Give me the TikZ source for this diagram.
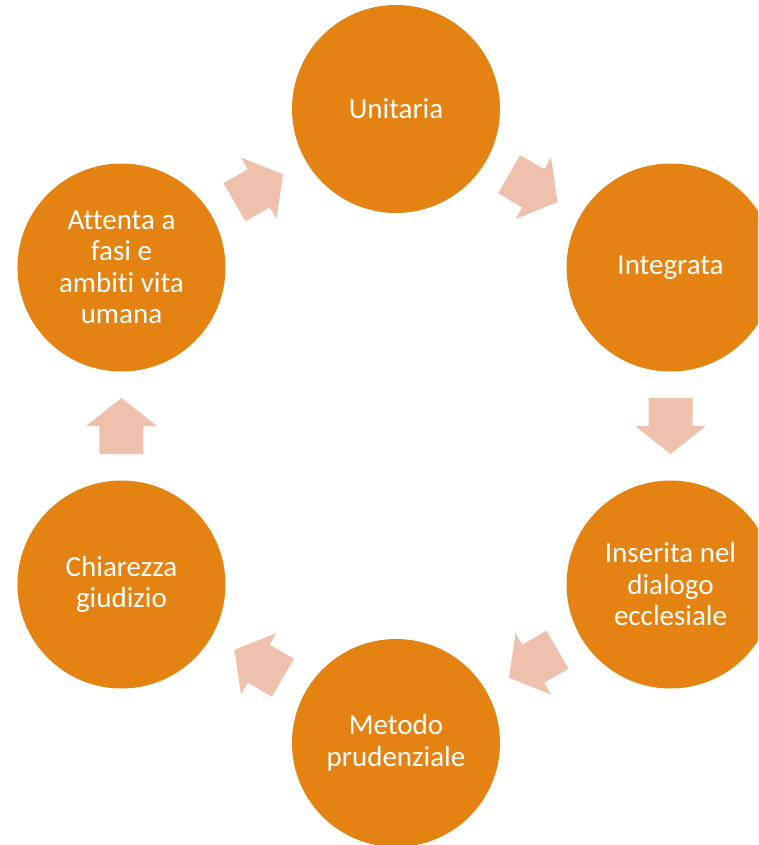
\documentclass[tikz,border=0pt]{standalone}
\usepackage{fontspec}
\setmainfont[Ligatures=NoCommon]{Carlito}
\usetikzlibrary{calc}
\definecolor{circ}{RGB}{228,131,18}
\definecolor{arr}{RGB}{239,193,172}
\begin{document}
\begin{tikzpicture}[x=1pt,y=1pt,
  stage/.style={circle, fill=circ, minimum size=208pt, inner sep=0pt, text=white, align=center, font=\fontsize{29}{31.5}\selectfont},
  blockarrow/.style={fill=arr}]
\useasboundingbox (0,0) rectangle (758,-845);
\clip (0,0) rectangle (758,-845);
\coordinate (o) at (396,-426);
\node[stage] (u) at ($(o)+(90:317)$) {Unitaria};
\node[stage] (i) at ($(o)+(30:317)$) {Integrata};
\node[stage] (s) at ($(o)+(-30:317)$) {Inserita nel\\dialogo\\ecclesiale};
\node[stage] (m) at ($(o)+(-90:317)$) {Metodo\\prudenziale};
\node[stage] (c) at ($(o)+(-150:317)$) {Chiarezza\\giudizio};
\node[stage] (a) at ($(o)+(150:317)$) {Attenta a\\fasi e\\ambiti vita\\umana};
\foreach \p/\q/\ang in {u/i/-30, i/s/-90, s/m/-150, m/c/150, c/a/90, a/u/30}
  \fill[blockarrow, shift={($(\p)!0.5!(\q)$)}, rotate=\ang]
    (-28,22) -- (0,22) -- (0,35.5) -- (28,0) -- (0,-35.5) -- (0,-22) -- (-28,-22) -- cycle;
\end{tikzpicture}
\end{document}
